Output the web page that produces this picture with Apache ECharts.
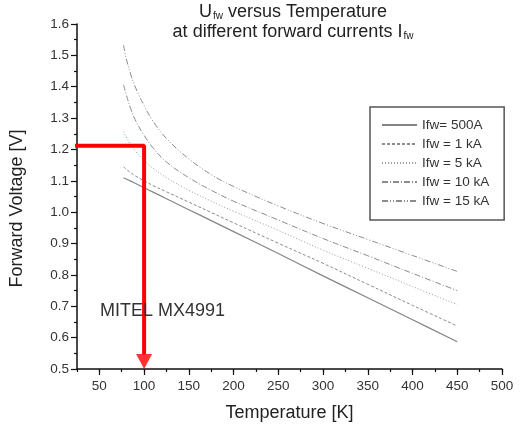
<!DOCTYPE html>
<html>
<head>
<meta charset="utf-8">
<script src="https://cdn.jsdelivr.net/npm/echarts@6/dist/echarts.min.js"></script>
<style>
html,body{margin:0;padding:0;background:#fff;}
#c{width:520px;height:428px;}
</style>
</head>
<body>
<div id="c"></div>
<script>
// ---- data ----
const temps   = [77, 80, 85, 90, 100, 110, 125, 150, 175, 200, 250, 300, 350, 400, 450];
const v500A   = [1.110, 1.106, 1.099, 1.092, 1.078, 1.064, 1.043, 1.008, 0.973, 0.938, 0.868, 0.797, 0.727, 0.657, 0.587];
const v1kA    = [1.145, 1.137, 1.126, 1.116, 1.100, 1.085, 1.065, 1.032, 0.999, 0.966, 0.901, 0.837, 0.770, 0.703, 0.637];
const v5kA    = [1.257, 1.240, 1.215, 1.195, 1.165, 1.140, 1.110, 1.070, 1.035, 1.003, 0.942, 0.879, 0.821, 0.763, 0.705];
const v10kA   = [1.406, 1.375, 1.330, 1.295, 1.245, 1.205, 1.160, 1.110, 1.070, 1.035, 0.975, 0.916, 0.861, 0.805, 0.750];
const v15kA   = [1.533, 1.490, 1.440, 1.400, 1.340, 1.290, 1.235, 1.170, 1.120, 1.082, 1.020, 0.964, 0.913, 0.862, 0.811];
const seriesNames = ['Ifw= 500A', 'Ifw = 1 kA', 'Ifw = 5 kA', 'Ifw = 10 kA', 'Ifw = 15 kA'];
const xTickLabels = [50, 100, 150, 200, 250, 300, 350, 400, 450, 500];
const redPath = [[21, 1.212], [100, 1.212], [100, 0.546]];
const redArrow = [[100, 0.5]];

const FONT = "'Liberation Sans', Arial, sans-serif";
const toPairs = arr => temps.map((t, i) => [t, arr[i]]);
const styles = [
  {color: '#858585', width: 1.2, type: 'solid'},
  {color: '#8c8c8c', width: 1, type: [3, 2]},
  {color: '#9a9a9a', width: 1, type: [1, 2]},
  {color: '#8c8c8c', width: 1, type: [6, 2, 1, 2]},
  {color: '#8c8c8c', width: 1, type: [6, 2, 1, 2, 1, 2]}
];
const curves = [v500A, v1kA, v5kA, v10kA, v15kA];

const series = curves.map((arr, i) => ({
  name: seriesNames[i],
  type: 'line',
  data: toPairs(arr),
  xAxisIndex: 0,
  symbol: 'none',
  smooth: 0.4,
  lineStyle: styles[i],
  itemStyle: {color: styles[i].color},
  z: 3
}));
series.push({
  type: 'line', data: redPath, xAxisIndex: 0, symbol: 'none', clip: false,
  lineStyle: {color: '#ff0000', width: 4}, z: 5, silent: true
});
series.push({
  type: 'scatter', data: redArrow, xAxisIndex: 0, symbol: 'triangle',
  symbolSize: [16, 15], symbolRotate: 180, symbolOffset: [0, -7.5], clip: false,
  itemStyle: {color: '#ff0000'}, z: 6, silent: true
});

const chart = echarts.init(document.getElementById('c'), null, {renderer: 'canvas'});
chart.setOption({
  animation: false,
  backgroundColor: '#fff',
  textStyle: {fontFamily: FONT},
  grid: {left: 74, right: 18, top: 24, bottom: 59, containLabel: false},
  legend: {
    orient: 'vertical', left: 370, top: 107,
    data: seriesNames,
    itemWidth: 35, itemHeight: 8, itemGap: 5,
    padding: [11, 15, 12, 11],
    borderColor: '#555', borderWidth: 1.5, backgroundColor: '#fff',
    itemStyle: {color: 'rgba(0,0,0,0)', borderColor: 'rgba(0,0,0,0)', borderWidth: 0, opacity: 0},
    textStyle: {fontFamily: FONT, fontSize: 13.5, color: '#333'},
    selectedMode: false
  },
  xAxis: [{
    type: 'value', min: 25, max: 500, interval: 25,
    position: 'bottom',
    name: 'Temperature [K]', nameLocation: 'middle', nameGap: 35,
    nameTextStyle: {fontFamily: FONT, fontSize: 18, color: '#222'},
    axisLine: {show: true, lineStyle: {color: '#111', width: 1.5}},
    axisTick: {show: true, length: 3, lineStyle: {color: '#111', width: 1.2}},
    axisLabel: {
      customValues: xTickLabels,
      fontFamily: FONT, fontSize: 13.5, color: '#333', margin: 10
    },
    splitLine: {show: false}
  }, {
    type: 'value', min: 25, max: 500,
    position: 'bottom', offset: 0,
    axisLine: {show: false},
    axisTick: {show: true, customValues: xTickLabels, length: 6, lineStyle: {color: '#111', width: 1.2}},
    axisLabel: {show: false},
    splitLine: {show: false}
  }],
  yAxis: {
    type: 'value', min: 0.5, max: 1.6, interval: 0.1,
    name: 'Forward Voltage [V]', nameLocation: 'middle', nameGap: 51,
    nameTextStyle: {fontFamily: FONT, fontSize: 18, color: '#222', padding: [0, 24, 0, 0]},
    axisLine: {show: true, lineStyle: {color: '#111', width: 1.5}},
    axisTick: {show: true, length: 6, lineStyle: {color: '#111', width: 1.2}},
    minorTick: {show: true, splitNumber: 2, length: 3, lineStyle: {color: '#111', width: 1.2}},
    axisLabel: {
      fontFamily: FONT, fontSize: 13.5, color: '#333', margin: 8,
      formatter: v => v.toFixed(1)
    },
    splitLine: {show: false}
  },
  graphic: [{
    type: 'text', x: 293, y: 2, z: 10,
    style: {
      text: '{m|U}{s|fw}{m| versus Temperature}\n{m|at different forward currents I}{s|fw}',
      align: 'center', verticalAlign: 'top',
      rich: {
        m: {fontFamily: FONT, fontSize: 18, lineHeight: 20, fill: '#222', color: '#222'},
        s: {fontFamily: FONT, fontSize: 10, lineHeight: 20, fill: '#222', color: '#222', padding: [9, 0, 0, 1]}
      }
    }
  }, {
    type: 'text', x: 100, y: 311, z: 10,
    style: {
      text: 'MITEL MX4991', fill: '#333',
      font: "18px 'Liberation Sans', Arial, sans-serif",
      verticalAlign: 'middle', align: 'left'
    }
  }],
  series: series
});
</script>
</body>
</html>
